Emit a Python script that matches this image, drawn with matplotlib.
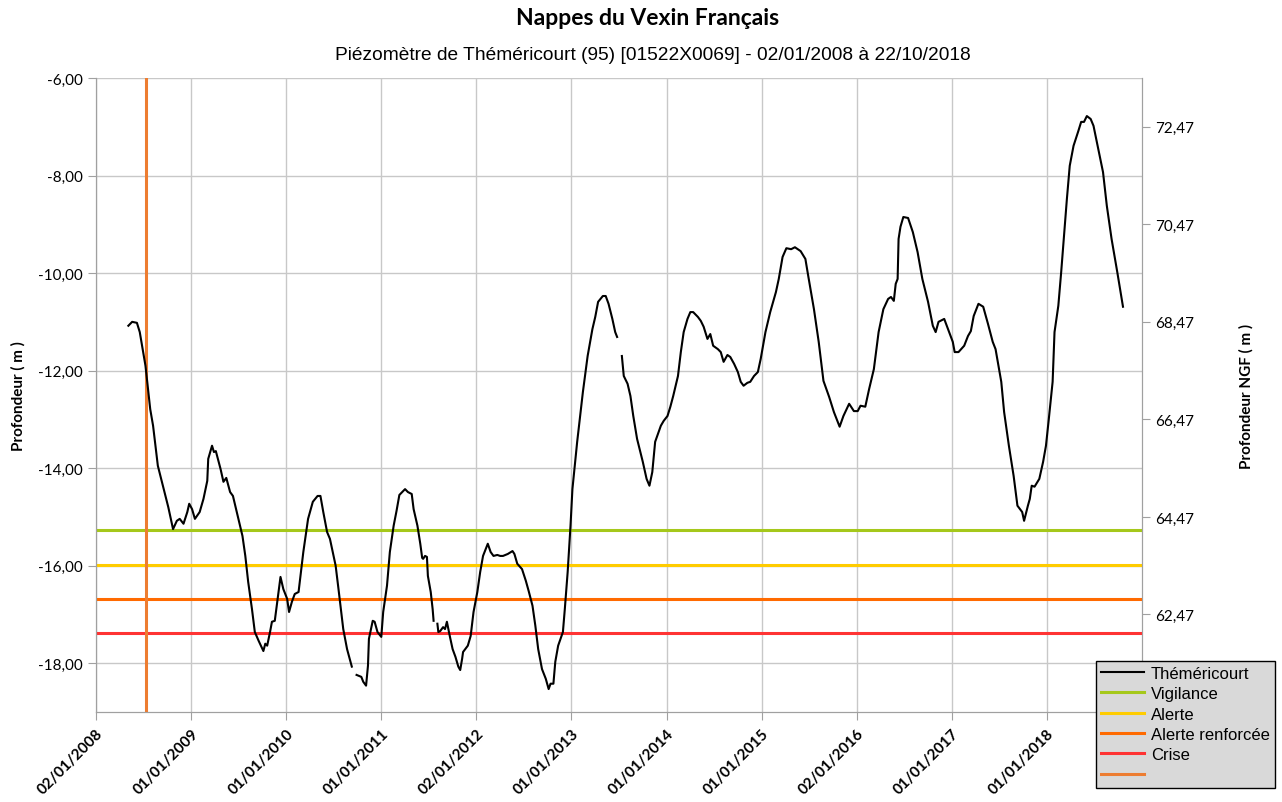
import numpy as np
import matplotlib.pyplot as plt
from matplotlib.ticker import FuncFormatter

# piezometer readings: decimal year, depth (m); NaN marks gaps in the record
years = [2008.34, 2008.38, 2008.43, 2008.46, 2008.52, 2008.57, 2008.60, 2008.65, 2008.69, 2008.76,
         2008.81, 2008.85, 2008.88, 2008.92, 2008.96, 2008.98, 2009.01, 2009.04, 2009.09, 2009.13,
         2009.17, 2009.18, 2009.22, 2009.24, 2009.26, 2009.31, 2009.34, 2009.37, 2009.41, 2009.44,
         2009.48, 2009.54, 2009.57, 2009.60, 2009.64, 2009.67, 2009.71, 2009.76, 2009.78, 2009.80,
         2009.83, 2009.85, 2009.88, 2009.91, 2009.94, 2009.97, 2010.01, 2010.03, 2010.06, 2010.09,
         2010.13, 2010.15, 2010.18, 2010.23, 2010.28, 2010.33, 2010.36, 2010.39, 2010.43, 2010.46,
         2010.52, 2010.55, 2010.60, 2010.64, 2010.69, 2010.715,
         2010.74, 2010.79, 2010.81, 2010.84, 2010.86, 2010.87, 2010.91, 2010.93, 2010.96, 2011.00,
         2011.02, 2011.06, 2011.09, 2011.13, 2011.16, 2011.19, 2011.23, 2011.25, 2011.28, 2011.32,
         2011.34, 2011.38, 2011.41, 2011.43, 2011.44, 2011.46, 2011.48, 2011.49, 2011.52, 2011.54,
         2011.55, 2011.57,
         2011.59, 2011.60, 2011.62, 2011.65, 2011.67, 2011.69, 2011.72, 2011.75, 2011.78, 2011.81,
         2011.83, 2011.85, 2011.86, 2011.91, 2011.94, 2011.97, 2012.01, 2012.04, 2012.07, 2012.12,
         2012.15, 2012.18, 2012.22, 2012.25, 2012.28, 2012.33, 2012.38, 2012.40, 2012.43, 2012.48,
         2012.52, 2012.55, 2012.59, 2012.62, 2012.65, 2012.69, 2012.73, 2012.76, 2012.78, 2012.81,
         2012.83, 2012.86, 2012.91, 2012.93, 2012.96, 2012.99, 2013.01, 2013.06, 2013.12, 2013.17,
         2013.22, 2013.25, 2013.28, 2013.33, 2013.36, 2013.39, 2013.43, 2013.46, 2013.48, 2013.505,
         2013.53, 2013.55, 2013.59, 2013.62, 2013.65, 2013.69, 2013.75, 2013.79, 2013.82, 2013.85,
         2013.88, 2013.94, 2013.97, 2014.01, 2014.04, 2014.07, 2014.12, 2014.15, 2014.18, 2014.22,
         2014.25, 2014.28, 2014.33, 2014.36, 2014.39, 2014.43, 2014.46, 2014.49, 2014.54, 2014.57,
         2014.60, 2014.64, 2014.67, 2014.71, 2014.75, 2014.78, 2014.81, 2014.85, 2014.88, 2014.92,
         2014.96, 2014.99, 2015.04, 2015.09, 2015.15, 2015.18, 2015.22, 2015.26, 2015.31, 2015.35,
         2015.41, 2015.46, 2015.49, 2015.55, 2015.60, 2015.65, 2015.71, 2015.76, 2015.82, 2015.86,
         2015.92, 2015.97, 2016.01, 2016.04, 2016.09, 2016.13, 2016.18, 2016.23, 2016.28, 2016.33,
         2016.36, 2016.39, 2016.41, 2016.43, 2016.44, 2016.46, 2016.49, 2016.54, 2016.59, 2016.64,
         2016.69, 2016.75, 2016.80, 2016.83, 2016.86, 2016.92, 2016.96, 2017.01, 2017.03, 2017.07,
         2017.13, 2017.17, 2017.20, 2017.23, 2017.28, 2017.33, 2017.38, 2017.43, 2017.46, 2017.52,
         2017.55, 2017.60, 2017.65, 2017.69, 2017.74, 2017.76, 2017.80, 2017.82, 2017.84, 2017.87,
         2017.92, 2017.96, 2017.99, 2018.02, 2018.06, 2018.08, 2018.12, 2018.15, 2018.18, 2018.21,
         2018.24, 2018.28, 2018.33, 2018.36, 2018.39, 2018.42, 2018.46, 2018.49, 2018.54, 2018.59,
         2018.63, 2018.68, 2018.74, 2018.80]
depth = [-11.08, -11.00, -11.02, -11.21, -11.90, -12.79, -13.13, -13.95, -14.26, -14.80,
         -15.25, -15.08, -15.04, -15.14, -14.90, -14.73, -14.84, -15.04, -14.90, -14.63,
         -14.26, -13.81, -13.54, -13.67, -13.65, -14.02, -14.28, -14.20, -14.49, -14.57,
         -14.90, -15.39, -15.80, -16.33, -16.89, -17.36, -17.54, -17.75, -17.60, -17.64,
         -17.36, -17.15, -17.13, -16.68, -16.23, -16.48, -16.68, -16.95, -16.74, -16.58,
         -16.54, -16.21, -15.72, -15.04, -14.69, -14.57, -14.57, -14.90, -15.31, -15.45,
         -16.00, -16.48, -17.30, -17.71, -18.07, np.nan,
         -18.24, -18.28, -18.38, -18.46, -18.05, -17.50, -17.13, -17.15, -17.36, -17.46,
         -16.95, -16.41, -15.72, -15.18, -14.88, -14.55, -14.47, -14.43, -14.49, -14.53,
         -14.84, -15.18, -15.55, -15.84, -15.86, -15.80, -15.82, -16.21, -16.54, -16.89,
         -17.13, np.nan,
         -17.19, -17.36, -17.34, -17.26, -17.30, -17.15, -17.44, -17.71, -17.87, -18.07,
         -18.14, -17.91, -17.77, -17.64, -17.44, -16.95, -16.54, -16.13, -15.80, -15.55,
         -15.72, -15.80, -15.78, -15.80, -15.80, -15.76, -15.70, -15.76, -15.96, -16.07,
         -16.31, -16.52, -16.82, -17.23, -17.71, -18.12, -18.32, -18.53, -18.42, -18.42,
         -17.97, -17.64, -17.36, -16.89, -16.13, -15.18, -14.43, -13.46, -12.44, -11.70,
         -11.15, -10.90, -10.59, -10.47, -10.47, -10.63, -10.94, -11.21, -11.31, np.nan,
         -11.70, -12.11, -12.27, -12.52, -12.93, -13.40, -13.87, -14.22, -14.36, -14.08,
         -13.46, -13.13, -13.03, -12.93, -12.74, -12.52, -12.11, -11.62, -11.21, -10.94,
         -10.80, -10.80, -10.90, -10.98, -11.10, -11.35, -11.25, -11.49, -11.56, -11.62,
         -11.82, -11.68, -11.72, -11.86, -12.03, -12.23, -12.31, -12.25, -12.23, -12.11,
         -12.03, -11.76, -11.21, -10.80, -10.39, -10.12, -9.67, -9.49, -9.51, -9.47,
         -9.55, -9.71, -10.06, -10.74, -11.41, -12.21, -12.54, -12.85, -13.15, -12.93,
         -12.68, -12.83, -12.83, -12.72, -12.74, -12.38, -11.97, -11.21, -10.74, -10.53,
         -10.49, -10.57, -10.22, -10.12, -9.30, -9.05, -8.85, -8.87, -9.16, -9.57,
         -10.12, -10.59, -11.08, -11.21, -11.00, -10.94, -11.15, -11.41, -11.62, -11.62,
         -11.49, -11.29, -11.19, -10.88, -10.63, -10.69, -11.04, -11.41, -11.56, -12.23,
         -12.85, -13.54, -14.16, -14.77, -14.90, -15.08, -14.77, -14.63, -14.36, -14.38,
         -14.22, -13.87, -13.54, -12.99, -12.23, -11.21, -10.67, -9.98, -9.24, -8.48,
         -7.80, -7.39, -7.09, -6.90, -6.90, -6.78, -6.84, -6.98, -7.46, -7.93,
         -8.62, -9.30, -9.98, -10.69]

# alert thresholds (m)
seuil_noms = ["Vigilance", "Alerte", "Alerte renforcée", "Crise"]
seuil_vals = [-15.27, -15.99, -16.68, -17.38]
seuil_cols = ["#a5c81b", "#ffcc00", "#ff6a00", "#ff3333"]

marker_year = 2008.53  # vertical reference line

tick_years = [2008.0, 2009.0, 2010.0, 2011.0, 2012.0, 2013.0, 2014.0, 2015.0, 2016.0, 2017.0, 2018.0]
tick_labels = ["02/01/2008", "01/01/2009", "01/01/2010", "01/01/2011", "02/01/2012", "01/01/2013",
               "01/01/2014", "01/01/2015", "02/01/2016", "01/01/2017", "01/01/2018"]
ngf_offset = 79.47

plt.rcParams['font.family'] = ['Lato', 'DejaVu Sans']

fig = plt.figure(figsize=(12.82, 8.03), dpi=100)
ax = fig.add_axes([0.0749, 0.1121, 0.8159, 0.7895])

grid_col = "#c8c8c8"
ax.plot(years, depth, color="black", lw=1.5, label="Théméricourt", zorder=5)
for nom, v, c in zip(seuil_noms, seuil_vals, seuil_cols):
    ax.axhline(v, color=c, lw=2.2, label=nom, zorder=3)
ax.axvline(marker_year, color="#ed7d31", lw=2.2, label=" ", zorder=4)

ax.set_xlim(2008.0, 2019.0)
ax.set_ylim(-19, -6)
ax.set_yticks(np.arange(-18, -5, 2))
ax.yaxis.set_major_formatter(FuncFormatter(lambda v, p: f"{v:.2f}".replace(".", ",")))
ax.set_xticks(tick_years)
ax.set_xticklabels(tick_labels, rotation=45, ha="right", rotation_mode="anchor",
                   fontsize=11, fontweight="bold")
ax.grid(True, color=grid_col, lw=1)
ax.set_axisbelow(True)
ax.spines["top"].set_visible(False)
for s in ["left", "bottom", "right"]:
    ax.spines[s].set_color("#a0a0a0")
ax.tick_params(axis="both", colors="#a0a0a0", labelcolor="black", length=6, labelsize=11)
ax.tick_params(axis="x", pad=4)
ax.set_ylabel("Profondeur ( m )", fontsize=11, fontweight="bold")
ax.yaxis.set_label_coords(-0.067, 0.5)

ax2 = ax.twinx()
ax2.set_ylim(-19 + ngf_offset, -6 + ngf_offset)
ax2.set_yticks([62.47, 64.47, 66.47, 68.47, 70.47, 72.47])
ax2.yaxis.set_major_formatter(FuncFormatter(lambda v, p: f"{v:.2f}".replace(".", ",")))
ax2.spines["top"].set_visible(False)
for s in ["left", "bottom", "right"]:
    ax2.spines[s].set_color("#a0a0a0")
ax2.tick_params(axis="y", colors="#a0a0a0", labelcolor="black", length=6, labelsize=11)
ax2.set_ylabel("Profondeur NGF ( m )", fontsize=11, fontweight="bold")
ax2.yaxis.set_label_coords(1.093, 0.5)

fig.text(0.505, 0.977, "Nappes du Vexin Français", ha="center", va="center",
         fontsize=16.5, fontweight="bold")
fig.text(0.509, 0.931, "Piézomètre de Théméricourt (95) [01522X0069] - 02/01/2008 à 22/10/2018",
         ha="center", va="center", fontsize=13.8, family="Liberation Sans")

handles, labels = ax.get_legend_handles_labels()
leg = fig.legend(handles, labels, loc="lower right", bbox_to_anchor=(0.9945, 0.018),
                 frameon=True, fancybox=False, facecolor="#d9d9d9", edgecolor="black",
                 framealpha=1, prop={"family": "Liberation Sans", "size": 12},
                 handlelength=2.6, handletextpad=0.4, labelspacing=0.32, borderpad=0.3,
                 borderaxespad=0)
leg.get_frame().set_linewidth(1)

fig.savefig("out.png", dpi=100)
